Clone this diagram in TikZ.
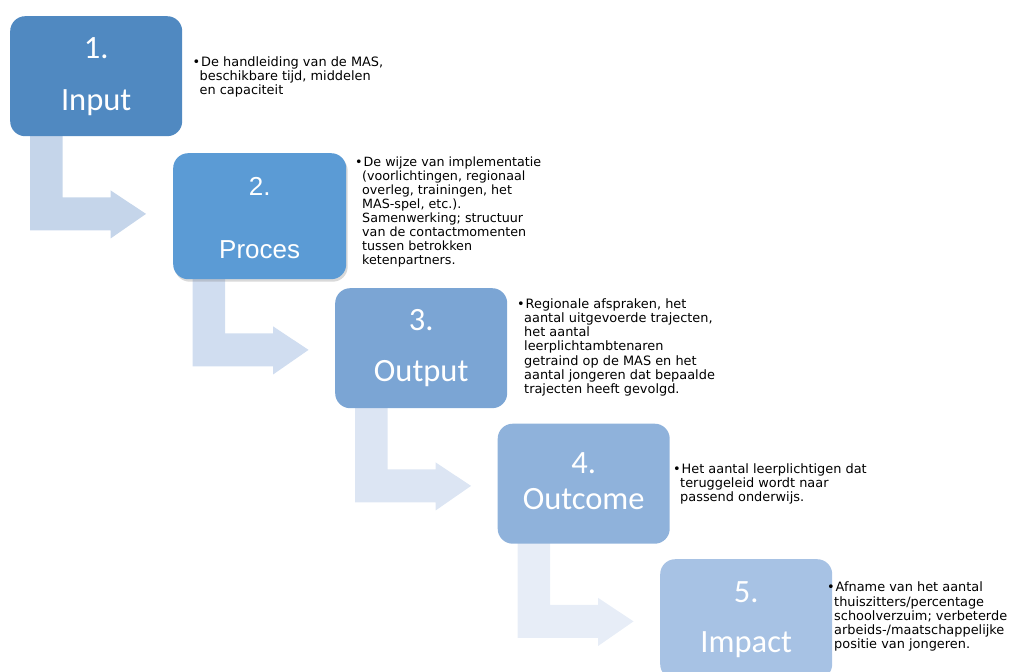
\documentclass[tikz,border=0pt]{standalone}
\usepackage{fontspec}
\setmainfont{DejaVu Sans}
\newfontfamily\boxfont{Carlito}
\newfontfamily\arialfont{Liberation Sans}
\usetikzlibrary{shadows,calc}
\pgfdeclarelayer{background}
\pgfsetlayers{background,main}

\definecolor{c1}{HTML}{5089C1}
\definecolor{c2}{HTML}{5B9BD5}
\definecolor{c3}{HTML}{7BA5D4}
\definecolor{c4}{HTML}{8FB2DB}
\definecolor{c5}{HTML}{A7C2E4}
\definecolor{a1}{HTML}{C5D5EA}
\definecolor{a2}{HTML}{D0DDF0}
\definecolor{a3}{HTML}{DCE5F3}
\definecolor{a4}{HTML}{E7EDF7}

\newcommand\desclines[1]{\begin{tabular}[t]{@{}l@{}}#1\end{tabular}}
\newcommand\bul{\llap{•\kern-0.5pt}\kern1.5pt}

\begin{document}
\begin{tikzpicture}[x=1pt,y=-1pt,
  stepbox/.style={rounded corners=15pt, minimum width=172pt, minimum height=120pt,
    inner sep=0pt, anchor=north west, draw=none},
  desc/.style={anchor=base west, inner sep=0pt, text=black,
    font=\fontsize{12.9}{14.3}\selectfont},
  desctwo/.style={desc, font=\fontsize{12.7}{13.9}\selectfont},
  boxlbl/.style={text=white, inner sep=0pt, anchor=base,
    font=\boxfont\fontsize{32.5}{36}\selectfont},
  arlbl/.style={text=white, inner sep=0pt, anchor=base,
    font=\arialfont\fontsize{26}{30}\selectfont},
  ]
\useasboundingbox (0,0) rectangle (1023,672);

% boxes
\node[stepbox, fill=c1] (b1) at (10,16) {};
\node[stepbox, fill=c2, minimum width=173pt, minimum height=126pt,
  drop shadow={shadow xshift=1.5pt, shadow yshift=-2.5pt, opacity=0.3}] (b2) at (173,153) {};
\node[stepbox, fill=c3] (b3) at (335,288) {};
\node[stepbox, fill=c4] (b4) at (497.5,423.5) {};
\node[stepbox, fill=c5] (b5) at (660,559) {};

% box labels
\node[boxlbl] (n1) at ($(b1.north)+(0,42.7)$) {1.};
\node[boxlbl] (w1) at ($(b1.north)+(0,94)$) {Input};
\node[arlbl] (n2) at ($(b2.north)+(0,42)$) {2.};
\node[arlbl] (w2) at ($(b2.north)+(0,105.3)$) {Proces};
\node[boxlbl] (n3) at ($(b3.north)+(0,42.7)$) {3.};
\node[boxlbl] (w3) at ($(b3.north)+(0,93.5)$) {Output};
\node[boxlbl] (n4) at ($(b4.north)+(0,49.5)$) {4.};
\node[boxlbl] (w4) at ($(b4.north)+(0,85.5)$) {Outcome};
\node[boxlbl] (n5) at ($(b5.north)+(0,43.7)$) {5.};
\node[boxlbl] (w5) at ($(b5.north)+(0,93.7)$) {Impact};

% bent arrows
\begin{pgfonlayer}{background}
\coordinate (s1) at ($(b1.south west)+(20,-10)$);
\coordinate (s2) at ($(b2.south west)+(19.5,-17)$);
\coordinate (s3) at ($(b3.south west)+(20,-10)$);
\coordinate (s4) at ($(b4.south west)+(20,-10)$);
\foreach \s/\c in {s1/a1, s2/a2, s3/a3, s4/a4}{
  \fill[\c] (\s) -- +(32.7,0) -- +(32.7,71) -- +(80.7,71) -- +(80.7,64)
    -- +(116,87.5) -- +(80.7,112) -- +(80.7,104) -- +(0,104) -- cycle;
}
\end{pgfonlayer}

% descriptions
\node[desc] (d1) at (199.5,66) {\desclines{\bul De handleiding van de MAS,\\
  beschikbare tijd, middelen\\en capaciteit}};
\node[desctwo] (d2) at (362,166.7) {\desclines{\bul De wijze van implementatie\\
  (voorlichtingen, regionaal\\overleg, trainingen, het\\MAS-spel, etc.).\\
  Samenwerking; structuur\\van de contactmomenten\\tussen betrokken\\ketenpartners.}};
\node[desc] (d3) at (524,308) {\desclines{\bul Regionale afspraken, het\\
  aantal uitgevoerde trajecten,\\het aantal\\leerplichtambtenaren\\
  getraind op de MAS en het\\aantal jongeren dat bepaalde\\trajecten heeft gevolgd.}};
\node[desc] (d4) at (680,473) {\desclines{\bul Het aantal leerplichtigen dat\\
  teruggeleid wordt naar\\passend onderwijs.}};
\node[desc] (d5) at (834,591.7) {\desclines{\bul Afname van het aantal\\
  thuiszitters/percentage\\schoolverzuim; verbeterde\\
  arbeids-/maatschappelijke\\positie van jongeren.}};
\end{tikzpicture}
\end{document}
